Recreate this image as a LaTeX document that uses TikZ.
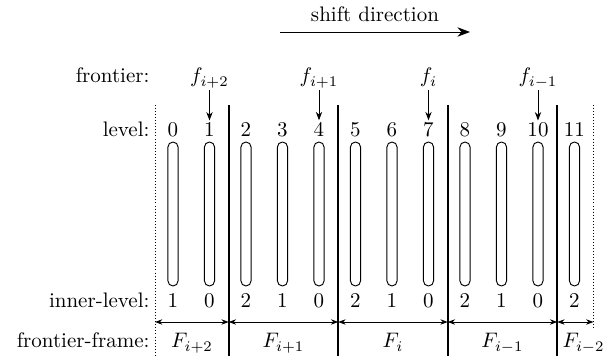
\documentclass[tikz,border=0pt]{standalone}
\usepackage{amsmath}
\usetikzlibrary{arrows.meta,positioning}

\begin{document}
\begin{tikzpicture}[x=0.476pt, y=-0.476pt,
      lbl/.style={anchor=base east, inner sep=1pt},
      num/.style={anchor=base, inner sep=1pt},
      capsule/.style={draw, line width=0.45pt, rounded corners=2.35pt, minimum width=4.8pt, minimum height=68.5pt, inner sep=0pt},
      sepline/.style={line width=0.9pt},
      bound/.style={densely dotted, line width=0.45pt},
      arr/.style={-{Stealth[length=4pt,width=3pt]}},
      dbl/.style={{Stealth[length=3.5pt,width=2.6pt]}-{Stealth[length=3.5pt,width=2.6pt]}, line width=0.4pt}]
    \useasboundingbox (0,0) rectangle (613,356);
    % shift direction
    \node[num] (sd) at (375,22) {shift direction};
    \coordinate (sa) at (280,32);
    \coordinate (sb) at (470,32);
    \draw[-{Stealth[length=6pt,width=4.5pt]}, line width=0.45pt] (sa) -- (sb);
    % row labels
    \node[lbl] (tf) at (152,83) {frontier:};
    \node[lbl] (tl) at (152,137) {level:};
    \node[lbl] (ti) at (152,308) {inner-level:};
    \node[lbl] (tff) at (152,348) {frontier-frame:};
    % levels, capsules, inner levels
    \foreach \k/\v in {0/1,1/0,2/2,3/1,4/0,5/2,6/1,7/0,8/2,9/1,10/0,11/2} {
      \node[num] (l\k) at (173+36.5*\k,137) {\k};
      \node[capsule] (c\k) at (173+36.5*\k,214) {};
      \node[num] (n\k) at (173+36.5*\k,308) {\v};
    }
    % frontiers
    \node[num] (fa) at (209.5,83) {$f_{i+2}$};
    \node[num] (fb) at (319,83) {$f_{i+1}$};
    \node[num] (fc) at (428.5,83) {$f_{i}$};
    \node[num] (fd) at (538,83) {$f_{i-1}$};
    \draw[arr] (fa) -- (l1);
    \draw[arr] (fb) -- (l4);
    \draw[arr] (fc) -- (l7);
    \draw[arr] (fd) -- (l10);
    % frame borders
    \draw[bound] (155,105) -- (155,356);
    \draw[bound] (593.5,105) -- (593.5,330);
    \foreach \x in {228.75,338.25,447.75,557.25}
      \draw[sepline] (\x,105) -- (\x,356);
    \coordinate (b0) at (155,322);
    \coordinate (b1) at (228.75,322);
    \coordinate (b2) at (338.25,322);
    \coordinate (b3) at (447.75,322);
    \coordinate (b4) at (557.25,322);
    \coordinate (b5) at (593.5,322);
    \draw[dbl] (b0) -- (b1);
    \draw[dbl] (b1) -- (b2);
    \draw[dbl] (b2) -- (b3);
    \draw[dbl] (b3) -- (b4);
    \draw[dbl] (b4) -- (b5);
    % frontier frames
    \node[num] (Fa) at (192,348) {$F_{i+2}$};
    \node[num] (Fb) at (283.5,348) {$F_{i+1}$};
    \node[num] (Fc) at (393,348) {$F_{i}$};
    \node[num] (Fd) at (502.5,348) {$F_{i-1}$};
    \node[anchor=base west, inner sep=1pt] (Fe) at (560,348) {$F_{i-2}$};
\end{tikzpicture}
\end{document}
